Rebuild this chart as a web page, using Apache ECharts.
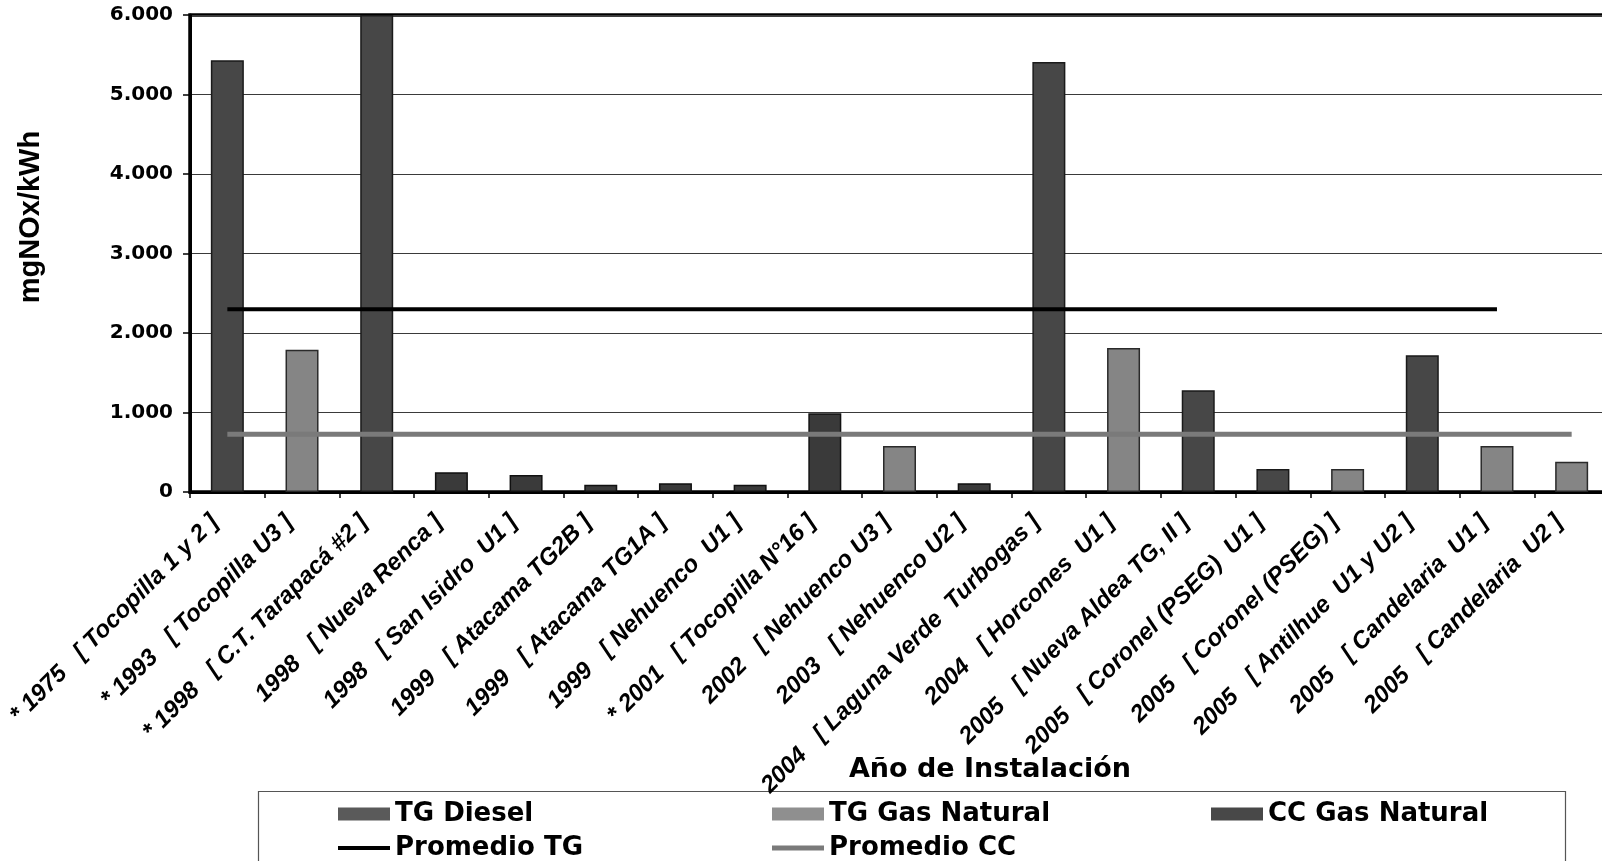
<!DOCTYPE html>
<html>
<head>
<meta charset="utf-8">
<script src="https://cdn.jsdelivr.net/npm/echarts@6/dist/echarts.min.js"></script>
<style>
html,body{margin:0;padding:0;background:#fff;}
#chart{width:1602px;height:861px;}
</style>
</head>
<body>
<div id="chart"></div>
<script>
// ---- data ----
var years = ['* 1975','* 1993','* 1998','1998','1998','1999','1999','1999','* 2001','2002','2003','2004','2004','2005','2005','2005','2005','2005','2005'];
var plants = ['[ Tocopilla 1 y 2 ]','[ Tocopilla U3 ]','[ C.T. Tarapacá #2 ]','[ Nueva Renca ]','[ San Isidro  U1 ]','[ Atacama TG2B ]','[ Atacama TG1A ]','[ Nehuenco  U1 ]','[ Tocopilla N°16 ]','[ Nehuenco U3 ]','[ Nehuenco U2 ]','[ Laguna Verde  Turbogas ]','[ Horcones  U1 ]','[ Nueva Aldea TG, II ]','[ Coronel (PSEG)  U1 ]','[ Coronel (PSEG) ]','[ Antilhue  U1 y U2 ]','[ Candelaria  U1 ]','[ Candelaria  U2 ]'];
var tgDiesel     = [5430, null, 6000, null, null, null, null, null, null, null, null, 5410, null, 1280, 290, null, 1720, null, null];
var tgGasNatural = [null, 1790, null, null, null, null, null, null, null, 580, null, null, 1810, null, null, 290, null, 580, 380];
var ccGasNatural = [null, null, null, 250, 215, 90, 110, 90, 990, null, 110, null, null, null, null, null, null, null, null];
var promedioTG   = [2300, 2300, 2300, 2300, 2300, 2300, 2300, 2300, 2300, 2300, 2300, 2300, 2300, 2300, 2300, 2300, 2300, 2300, null];
var promedioCC   = [725, 725, 725, 725, 725, 725, 725, 725, 725, 725, 725, 725, 725, 725, 725, 725, 725, 725, 725];
var yTickLabels  = ['0','1.000','2.000','3.000','4.000','5.000','6.000'];
var yName = 'mgNOx/kWh';
var xName = 'Año de Instalación';

var categories = years.map(function(y, i){ return y + '   ' + plants[i]; });

var chart = echarts.init(document.getElementById('chart'));
var legendText = {fontFamily:'DejaVu Sans', fontWeight:'bold', fontSize:26, color:'#000', lineHeight:26};
function leg(name, left, top, h, color){
  return {left:left, top:top, orient:'horizontal', itemWidth:52, itemHeight:h, textStyle:legendText,
    data:[{name:name, icon:'rect', itemStyle:{color:color, borderWidth:0}}]};
}
var option = {
  animation:false,
  backgroundColor:'#fff',
  grid:{left:190, top:15, bottom:369, right:-7, containLabel:false, outerBoundsMode:'none', show:true, borderColor:'#000', borderWidth:3.5, backgroundColor:'transparent'},
  xAxis:{
    type:'category', data:categories,
    axisLine:{lineStyle:{color:'#000', width:3}},
    axisTick:{show:true, length:6, lineStyle:{color:'#000', width:1.5}},
    axisLabel:{rotate:45, interval:0, margin:14, padding:[0,18,0,0], fontFamily:'Liberation Sans', fontWeight:'bold', fontStyle:'italic', fontSize:24, color:'#000'}
  },
  yAxis:{
    type:'value', min:0, max:6000, interval:1000,
    axisLine:{show:true, lineStyle:{color:'#000', width:3}},
    axisTick:{show:true, length:7, lineStyle:{color:'#000', width:1.5}},
    axisLabel:{margin:17, fontFamily:'DejaVu Sans', fontWeight:'bold', fontSize:20, color:'#000',
      formatter:function(v){ return yTickLabels[Math.round(v/1000)]; }},
    splitLine:{show:true, lineStyle:{color:'#3a3a3a', width:1.2}}
  },
  legend:[
    leg('TG Diesel', 333, 796, 13, '#5a5a5a'),
    leg('Promedio TG', 333, 830, 4, '#000'),
    leg('TG Gas Natural', 767, 796, 13, '#8f8f8f'),
    leg('Promedio CC', 767, 830, 5, '#7a7a7a'),
    leg('CC Gas Natural', 1206, 796, 13, '#484848')
  ],
  graphic:[
    {type:'rect', left:256, top:789, shape:{width:1307, height:120}, style:{fill:'none', stroke:'#555', lineWidth:1.2}, silent:true},
    {type:'text', x:990, y:770, style:{text:xName, fontFamily:'DejaVu Sans', fontWeight:'bold', fontSize:27, fill:'#000', textAlign:'center', textVerticalAlign:'middle'}},
    {type:'text', x:31, y:217, rotation:Math.PI/2, style:{text:yName, fontFamily:'Liberation Sans', fontWeight:'bold', fontSize:29, fill:'#000', textAlign:'center', textVerticalAlign:'middle'}}
  ],
  series:[
    {name:'TG Diesel', type:'bar', stack:'s', barWidth:33, data:tgDiesel, itemStyle:{color:'#474747', borderColor:'#1a1a1a', borderWidth:1.5}},
    {name:'TG Gas Natural', type:'bar', stack:'s', barWidth:33, data:tgGasNatural, itemStyle:{color:'#858585', borderColor:'#2a2a2a', borderWidth:1.5}},
    {name:'CC Gas Natural', type:'bar', stack:'s', barWidth:33, data:ccGasNatural, itemStyle:{color:'#3a3a3a', borderColor:'#111', borderWidth:1.5}},
    {name:'Promedio TG', type:'line', data:promedioTG, symbol:'none', showSymbol:false, lineStyle:{color:'#000', width:4}, itemStyle:{color:'#000'}, z:5},
    {name:'Promedio CC', type:'line', data:promedioCC, symbol:'none', showSymbol:false, lineStyle:{color:'#7a7a7a', width:5}, itemStyle:{color:'#7a7a7a'}, z:5}
  ]
};
chart.setOption(option);
</script>
</body>
</html>
